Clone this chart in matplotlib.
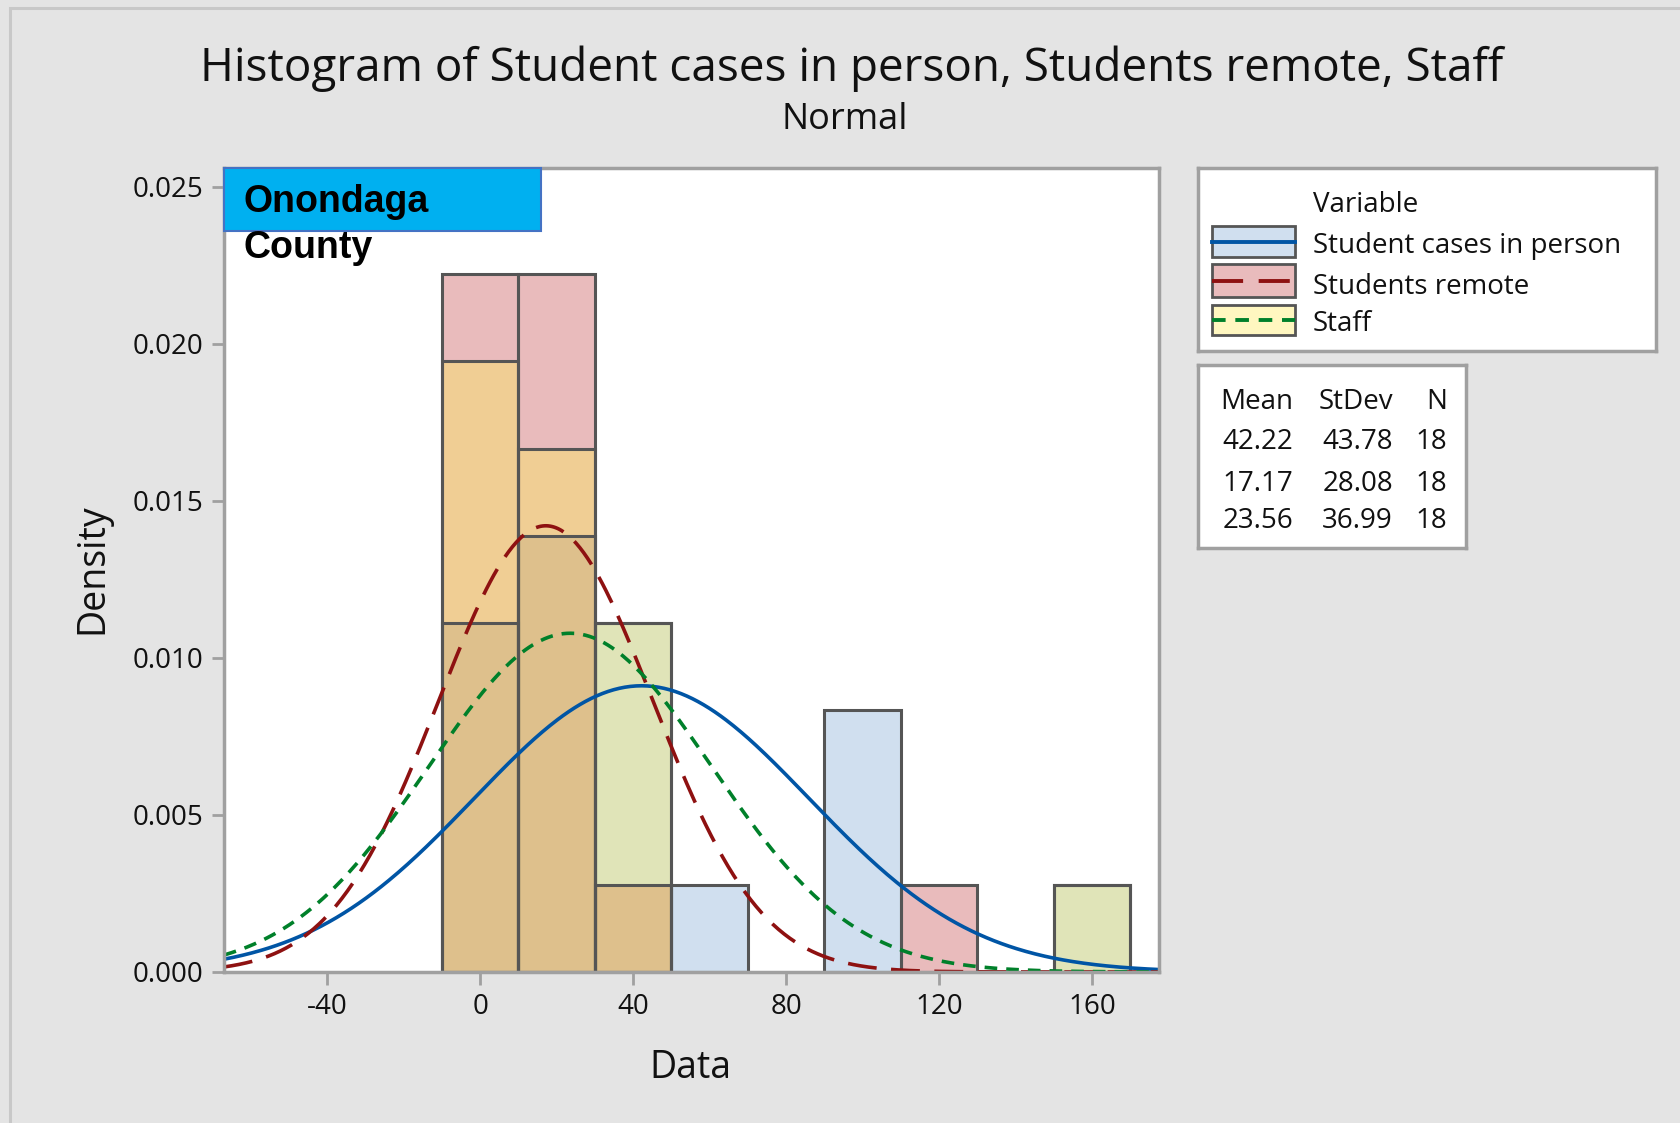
import numpy as np
import matplotlib
matplotlib.use("Agg")
import matplotlib.pyplot as plt
from matplotlib.patches import Rectangle
from matplotlib.lines import Line2D

# histogram counts per bin (bin width 20)
bin_edges = [-10, 10, 30, 50, 70, 90, 110, 130, 150, 170]
in_person = [4, 5, 4, 1, 0, 3, 0, 0, 1]
remote = [8, 8, 1, 0, 0, 0, 1, 0, 0]
staff = [7, 6, 4, 0, 0, 0, 0, 0, 1]

names = ["Student cases in person", "Students remote", "Staff"]
means = [42.22, 17.17, 23.56]
stdevs = [43.78, 28.08, 36.99]
n_obs = [18, 18, 18]

x_ticks = [-40, 0, 40, 80, 120, 160]
y_ticks = [0.000, 0.005, 0.010, 0.015, 0.020, 0.025]

FONT = "Open Sans"
BG = "#E4E4E4"
EDGE = "#555555"
TXT = "#111111"
line_colors = ["#0055A5", "#8E1111", "#00802A"]
legend_fill = ["#D0DFEF", "#E9BBBC", "#FFF7C0"]
# overlap colours (Minitab transparency)
combo_fill = {
    (0,): "#D0DFEF", (1,): "#E9BBBC", (2,): "#FFF7C0",
    (0, 2): "#E0E4B8", (1, 2): "#F0CE94", (0, 1): "#DDC8D2",
    (0, 1, 2): "#DEC08C",
}

edges = np.array(bin_edges, dtype=float)
width = np.diff(edges)
centers = edges[:-1] + width / 2
counts = [np.array(c, dtype=float) for c in (in_person, remote, staff)]
dens = [c / (n * width) for c, n in zip(counts, n_obs)]

fig = plt.figure(figsize=(16.8, 11.23), dpi=100, facecolor=BG)
fig.patches.append(Rectangle((10 / 1680, -0.1), 2, (1123 - 7.5) / 1123 + 0.1,
                             transform=fig.transFigure, fill=False,
                             edgecolor="#C8C8C8", lw=2.2))

ax = fig.add_axes([0.1333, 0.1345, 0.5565, 0.7159])
ax.set_facecolor("white")

# filled overlap segments
for i in range(len(centers)):
    h = [d[i] for d in dens]
    levels = sorted(set(v for v in h if v > 0))
    prev = 0.0
    for lv in levels:
        active = tuple(k for k in range(3) if h[k] >= lv - 1e-12)
        ax.bar(centers[i], lv - prev, width[i], bottom=prev,
               color=combo_fill[active], linewidth=0)
        prev = lv

# bar outlines for each series
for d in dens:
    m = d > 0
    ax.bar(centers[m], d[m], width[m], fill=False, edgecolor=EDGE, linewidth=2.2)

# fitted normal curves
xs = np.linspace(-67, 177.5, 500)
styles = ["-", (0, (8, 4)), (0, (3.5, 2.5))]
for mu, sd, c, ls in zip(means, stdevs, line_colors, styles):
    pdf = np.exp(-0.5 * ((xs - mu) / sd) ** 2) / (sd * np.sqrt(2 * np.pi))
    ax.plot(xs, pdf, color=c, lw=2.6, linestyle=ls)

ax.set_xlim(-67, 177.5)
ax.set_ylim(0, 0.0256)
ax.set_xticks(x_ticks)
ax.set_xticklabels([str(v) for v in x_ticks], fontfamily=FONT)
ax.set_yticks(y_ticks)
ax.set_yticklabels([f"{v:.3f}" for v in y_ticks], fontfamily=FONT)
ax.tick_params(length=9, width=2, color="#A0A0A0", labelsize=20, pad=6,
               labelcolor=TXT)
for s in ax.spines.values():
    s.set_color("#A0A0A0")
    s.set_linewidth(2.5)

# county label box
ax.add_patch(Rectangle((0, 0.922), 0.339, 0.078, transform=ax.transAxes,
                       facecolor="#00B0F0", edgecolor="#4472C4", lw=1.5,
                       zorder=5, clip_on=False))
ax.text(0.021, 0.958, "Onondaga", transform=ax.transAxes, fontsize=27,
        fontweight="bold", fontfamily="Liberation Sans", va="center", zorder=6)
ax.text(0.021, 0.900, "County", transform=ax.transAxes, fontsize=27,
        fontweight="bold", fontfamily="Liberation Sans", va="center", zorder=6)

fig.text(0.507, 0.939, "Histogram of Student cases in person, Students remote, Staff",
         ha="center", va="center", fontsize=33, fontfamily=FONT, color=TXT)
fig.text(0.503, 0.893, "Normal", ha="center", va="center", fontsize=26,
         fontfamily=FONT, color=TXT)
fig.text(0.411, 0.049, "Data", ha="center", va="center", fontsize=27,
         fontfamily=FONT, color=TXT)
fig.text(0.055, 0.494, "Density", ha="center", va="center", rotation=90,
         fontsize=27, fontfamily=FONT, color=TXT)

# legend box
lax = fig.add_axes([0.7131, 0.6874, 0.2726, 0.163])
lax.set_xlim(1198, 1656)
lax.set_ylim(351, 168)
lax.set_xticks([])
lax.set_yticks([])
for s in lax.spines.values():
    s.set_color("#A0A0A0")
    s.set_linewidth(2.5)
lax.text(1313, 205, "Variable", va="center", fontsize=20, fontfamily=FONT, color=TXT)
rows = [(226, 257, 246), (264, 297, 287), (305, 335, 324)]
for k, (y0, y1, yt) in enumerate(rows):
    lax.add_patch(Rectangle((1212, y0), 83, y1 - y0, facecolor=legend_fill[k],
                            edgecolor=EDGE, lw=2))
    lax.add_line(Line2D([1212, 1295], [(y0 + y1) / 2] * 2, color=line_colors[k],
                        lw=2.8, linestyle=styles[k]))
    lax.text(1313, yt, names[k], va="center", fontsize=20, fontfamily=FONT,
             color=TXT)

# stats table
sax = fig.add_axes([0.7131, 0.512, 0.1595, 0.163])
sax.set_xlim(1198, 1466)
sax.set_ylim(548, 365)
sax.set_xticks([])
sax.set_yticks([])
for s in sax.spines.values():
    s.set_color("#A0A0A0")
    s.set_linewidth(2.5)
cols = [1293, 1393, 1447]
for x, h in zip(cols, ["Mean", "StDev", "N"]):
    sax.text(x, 402, h, ha="right", va="center", fontsize=20, fontfamily=FONT,
             color=TXT)
for y, mu, sd, n in zip([442, 484, 521], means, stdevs, n_obs):
    for x, v in zip(cols, [f"{mu:.2f}", f"{sd:.2f}", str(n)]):
        sax.text(x, y, v, ha="right", va="center", fontsize=20, fontfamily=FONT,
                 color=TXT)

fig.savefig("out.png", dpi=100, facecolor=BG)
